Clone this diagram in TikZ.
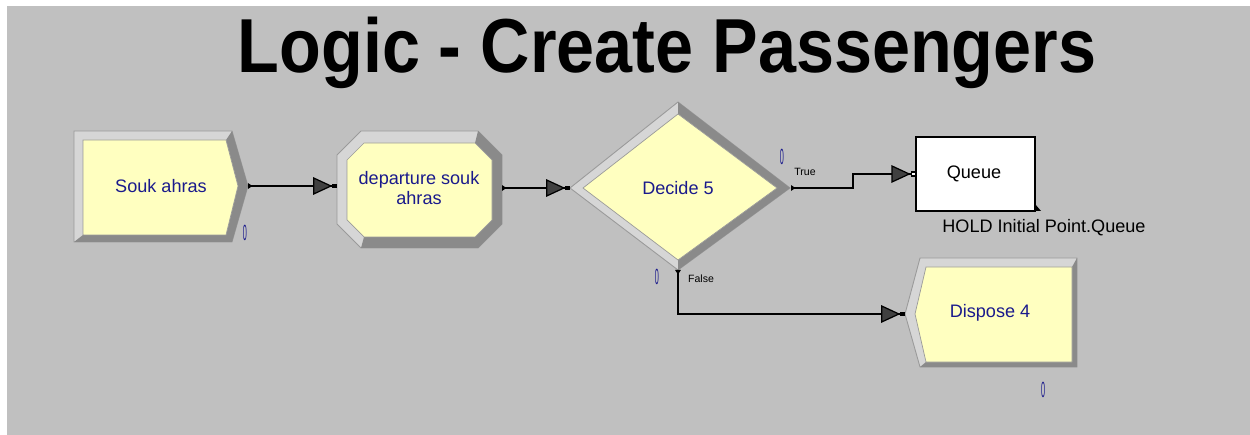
\documentclass[tikz,border=0pt]{standalone}
\usepackage{fontspec}
\setmainfont{Liberation Sans}
\usetikzlibrary{arrows.meta}
\definecolor{arenabg}{HTML}{C0C0C0}
\definecolor{bevlite}{HTML}{D6D6D6}
\definecolor{bevdark}{HTML}{8A8A8A}
\definecolor{bevline}{HTML}{9A9A9A}
\definecolor{faceyel}{HTML}{FFFFC0}
\definecolor{arenanavy}{HTML}{1A1A8C}
\definecolor{tipgray}{HTML}{404040}

\begin{document}
\begin{tikzpicture}[x=0.02cm, y=-0.02cm, font=\fontsize{10.3}{11.5}\selectfont,
  rim/.style={fill=bevlite, draw=bevline, line width=0.5pt},
  shade/.style={fill=bevdark},
  face/.style={fill=faceyel, draw=bevline, line width=0.4pt},
  lbl/.style={text=arenanavy, align=center, inner sep=0pt},
  cnt/.style={text=arenanavy, font=\fontsize{12.5}{12.5}\selectfont, inner sep=0pt},
  tag/.style={font=\fontsize{6}{6}\selectfont, inner sep=0pt},
  flow/.style={line width=0.7pt,
    {Triangle[reversed,length=2.5pt,width=3.2pt]}-{Triangle[length=11pt,width=10pt,fill=tipgray]Square[length=2.6pt,width=2.6pt]}},
  flowq/.style={line width=0.7pt,
    {Triangle[reversed,length=2.5pt,width=3.2pt]}-{Triangle[length=11pt,width=10pt,fill=tipgray]Square[length=3pt,width=3pt,open,fill=white]}}]
\useasboundingbox (0,0) rectangle (1250,435);
\fill[arenabg] (7,6) rectangle (1250,435);

% title
\node[anchor=base, inner sep=0pt, font=\fontsize{38.9}{40}\selectfont\bfseries] (title) at (667,73)
  {\scalebox{1}[1.12]{Logic - Create Passengers}};

% create: Souk ahras
\draw[rim] (74,131) -- (232,131) -- (248,186) -- (232,242) -- (74,242) -- cycle;
\fill[shade] (232,131) -- (248,186) -- (232,242) -- (74,242) -- (83,235) -- (226,235) -- (238,186) -- (226,140) -- cycle;
\draw[face] (83,140) -- (226,140) -- (238,186) -- (226,235) -- (83,235) -- cycle;
\node[lbl] (souk) at (161,186) {Souk ahras};
\node[cnt] (soukcnt) at (245,233) {\scalebox{0.33}[1]{0}};
\coordinate (soukout) at (248,186);

% process: departure souk ahras
\draw[rim] (361,131) -- (478,131) -- (502,155) -- (502,224) -- (478,248) -- (361,248) -- (337,224) -- (337,155) -- cycle;
\fill[shade] (478,131) -- (502,155) -- (502,224) -- (478,248) -- (361,248) -- (364,237) -- (475,237) -- (492,220) -- (492,160) -- (475,143) -- cycle;
\draw[face] (364,143) -- (475,143) -- (492,160) -- (492,220) -- (475,237) -- (364,237) -- (347,220) -- (347,160) -- cycle;
\node[lbl] (depart) at (419,188) {departure souk\\ahras};
\coordinate (departin) at (337,186);
\coordinate (departout) at (502,188);

% decide
\draw[rim] (570,188) -- (678,102) -- (790,188) -- (678,270) -- cycle;
\fill[shade] (678,102) -- (790,188) -- (678,270) -- (678,260) -- (777,188) -- (678,114) -- cycle;
\draw[face] (583,188) -- (678,114) -- (777,188) -- (678,260) -- cycle;
\node[lbl] (decide) at (678,188) {Decide 5};
\node[cnt] (truecnt) at (782,157) {\scalebox{0.33}[1]{0}};
\node[cnt] (falsecnt) at (657,277) {\scalebox{0.33}[1]{0}};
\node[tag] (truetag) at (805,172) {True};
\node[tag] (falsetag) at (701,279) {False};
\coordinate (decidein) at (570,188);
\coordinate (decidetrue) at (791,188);
\coordinate (decidefalse) at (678,270);

% queue
\draw[fill=white, line width=0.7pt] (916,137) rectangle (1035,211);
\fill (1035,204) -- (1041,211) -- (1035,211) -- cycle;
\node[inner sep=0pt] (queue) at (974,174) {Queue};
\node[anchor=west, inner sep=0pt] (hold) at (942,228) {HOLD Initial Point.Queue};
\coordinate (queuein) at (916,174);

% dispose
\draw[rim] (905,314) -- (920,258) -- (1077,258) -- (1077,367) -- (920,367) -- cycle;
\fill[shade] (1077,258) -- (1077,367) -- (920,367) -- (926,362) -- (1072,362) -- (1072,267) -- cycle;
\draw[face] (915,314) -- (926,267) -- (1072,267) -- (1072,362) -- (926,362) -- cycle;
\node[lbl] (dispose) at (990,313) {Dispose 4};
\node[cnt] (disposecnt) at (1043,390) {\scalebox{0.33}[1]{0}};
\coordinate (disposein) at (905,314);

% connectors
\draw[flow] (soukout) -- (departin);
\draw[flow] (departout) -- (decidein);
\draw[flowq] (decidetrue) -- ++(62,0) |- (queuein);
\draw[flow] (decidefalse) |- (disposein);
\end{tikzpicture}
\end{document}
